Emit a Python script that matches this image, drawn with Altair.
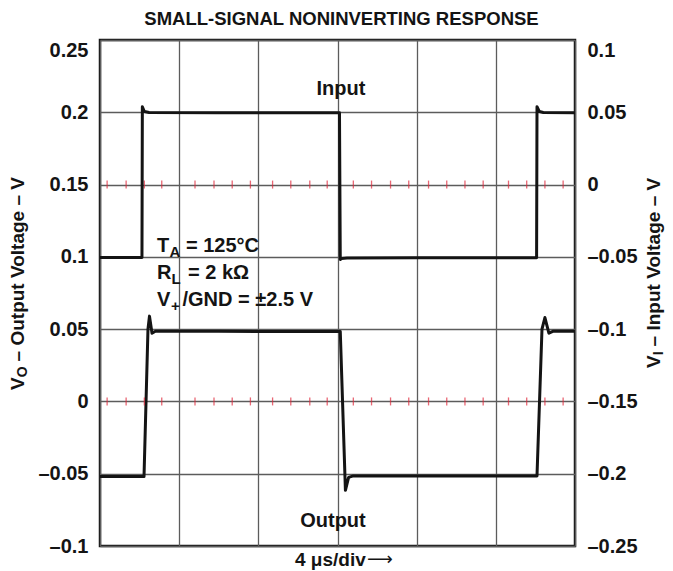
import altair as alt
import pandas as pd

FONT = "Liberation Sans"
INK = "#141414"

# ---- data (time in divisions, 4 us/div) ----
# Input trace (right axis, V)
in_t = [0.0, 0.53, 0.535, 0.56, 0.62, 1.5, 2.5, 3.025, 3.035, 3.05, 3.12, 4.0, 5.0, 5.515, 5.52, 5.55, 5.60, 6.0]
in_v = [-0.0505, -0.0505, 0.0538, 0.0505, 0.0498, 0.0497, 0.0496, 0.0496, -0.0518, -0.0512, -0.0508, -0.0507, -0.0506, -0.0506, 0.0538, 0.0505, 0.0499, 0.0497]
# Output trace (left axis, V)
out_t = [0.0, 0.556, 0.606, 0.625, 0.657, 0.70, 1.5, 2.5, 3.035, 3.10, 3.14, 3.2, 4.0, 5.0, 5.52, 5.583, 5.62, 5.67, 5.72, 6.0]
out_v = [-0.052, -0.052, 0.050, 0.059, 0.0472, 0.0485, 0.0485, 0.0484, 0.0484, -0.0615, -0.0525, -0.0515, -0.0516, -0.0515, -0.0515, 0.050, 0.058, 0.0472, 0.0485, 0.0485]

# red minor marks on the 0.15 V and 0 V grid lines
mark_t = [0.09, 0.33, 0.56, 0.78, 1.20, 1.44, 1.67, 1.90, 2.18, 2.41, 2.65, 2.87,
          3.20, 3.43, 3.67, 3.90, 4.15, 4.38, 4.61, 4.84, 5.16, 5.39, 5.62, 5.85]
mark_levels = [0.15, 0.0]

x_grid = [0, 1, 2, 3, 4, 5, 6]
left_ticks = [-0.1, -0.05, 0, 0.05, 0.1, 0.15, 0.2, 0.25]
right_ticks = [-0.25, -0.2, -0.15, -0.1, -0.05, 0, 0.05, 0.1]

title_text = "SMALL-SIGNAL NONINVERTING RESPONSE"
x_title = "4 μs/div"
x_arrow = "⟶"

df_in = pd.DataFrame({"t": in_t, "v": in_v, "i": range(len(in_t))})
df_out = pd.DataFrame({"t": out_t, "v": out_v, "i": range(len(out_t))})
df_marks = pd.DataFrame([{"t": t, "v": lv} for lv in mark_levels for t in mark_t])

x_scale = alt.Scale(domain=[0, 6], nice=False, zero=False)
yl_scale = alt.Scale(domain=[-0.1, 0.25], nice=False, zero=False)
yr_scale = alt.Scale(domain=[-0.25, 0.1], nice=False, zero=False)

lab_expr = "datum.value < 0 ? '–' + format(-datum.value, '~g') : format(datum.value, '~g')"

x_axis = alt.Axis(values=x_grid, grid=True, gridColor="#5c5c5c", gridWidth=1.3,
                  labels=False, ticks=False, domain=False, title=None)
left_axis = alt.Axis(values=left_ticks, grid=True, gridColor="#5c5c5c", gridWidth=1.3,
                     ticks=False, domain=False, title=None, labelExpr=lab_expr,
                     labelFont=FONT, labelFontSize=20, labelFontWeight="bold", labelColor=INK,
                     labelPadding=12, labelFlush=False,
                     labelBaseline={"condition": {"test": "datum.value >= 0.24", "value": "top"}, "value": "middle"})
right_axis = alt.Axis(values=right_ticks, orient="right", grid=False, ticks=False, domain=False,
                      title=None, labelExpr=lab_expr, labelFont=FONT, labelFontSize=20,
                      labelFontWeight="bold", labelColor=INK, labelPadding=12, labelFlush=False,
                      labelBaseline={"condition": {"test": "datum.value >= 0.09", "value": "top"}, "value": "middle"})

X = alt.X("t:Q", scale=x_scale, axis=x_axis)
YL = alt.Y("v:Q", scale=yl_scale, axis=left_axis)

out_line = alt.Chart(df_out).mark_line(color=INK, strokeWidth=3, strokeJoin="round").encode(
    x=X, y=YL, order="i:Q",
)

marks = alt.Chart(df_marks).mark_tick(orient="vertical", color="#e0283a", size=8, thickness=1.3).encode(
    x=X, y=YL,
)


def txt(s, t, v, size=20, dx=0, dy=0, align="left"):
    return alt.Chart(pd.DataFrame({"t": [t], "v": [v], "s": [s]})).mark_text(
        font=FONT, fontSize=size, fontWeight="bold", color=INK, align=align,
        baseline="alphabetic", dx=dx, dy=dy,
    ).encode(x=X, y=YL, text="s:N")


def ptxt(s, x, y, size=19, dy=0, angle=0, align="left", baseline="middle", font=FONT, weight="bold"):
    return alt.Chart(pd.DataFrame({"s": [s]})).mark_text(
        font=font, fontSize=size, fontWeight=weight, color=INK, align=align,
        baseline=baseline, angle=angle, dy=dy,
    ).encode(x=alt.value(x), y=alt.value(y), text="s:N")


ann = [
    txt("Input", 3.044, 0.212, align="center"),
    txt("Output", 2.943, -0.0869, align="center"),
    txt("T", 0.72, 0.1034),
    txt("A", 0.72, 0.1034, size=15, dx=12.5, dy=5),
    txt("= 125°C", 0.72, 0.1034, dx=29),
    txt("R", 0.72, 0.0847),
    txt("L", 0.72, 0.0847, size=15, dx=14.5, dy=5),
    txt("= 2 kΩ", 0.72, 0.0847, dx=31),
    txt("V", 0.72, 0.066),
    txt("+", 0.72, 0.066, size=15, dx=14, dy=5),
    txt("/GND = ±2.5 V", 0.72, 0.066, dx=25.5),
    # chart title
    ptxt(title_text, 241.5, -15, size=18.5, align="center", baseline="alphabetic"),
    # x axis title
    ptxt(x_title, 195, 526, size=19, baseline="alphabetic"),
    ptxt(x_arrow, 267, 525, size=18, baseline="alphabetic", font="DejaVu Sans", weight="normal"),
    # left axis title (rotated, reads upward)
    ptxt("V", -82, 350, angle=270),
    ptxt("O", -82, 337.3, size=14, dy=5, angle=270),
    ptxt("– Output Voltage – V", -82, 321.4, angle=270),
    # right axis title
    ptxt("V", 554, 328, angle=270),
    ptxt("I", 554, 315.3, size=14, dy=5, angle=270),
    ptxt("– Input Voltage – V", 554, 306.4, angle=270),
]

left = alt.layer(out_line, marks, *ann)

in_line = alt.Chart(df_in).mark_line(color=INK, strokeWidth=3, strokeJoin="round").encode(
    x=X,
    y=alt.Y("v:Q", scale=yr_scale, axis=right_axis),
    order="i:Q",
)

chart = alt.layer(left, in_line).resolve_scale(y="independent").properties(
    width=475, height=506,
    autosize=alt.AutoSizeParams(type="none"),
    padding={"left": 92, "top": 32, "right": 90, "bottom": 25},
).configure_view(stroke=INK, strokeWidth=2.5)

chart.save("out.html", embed_options={"renderer": "svg", "actions": False})
